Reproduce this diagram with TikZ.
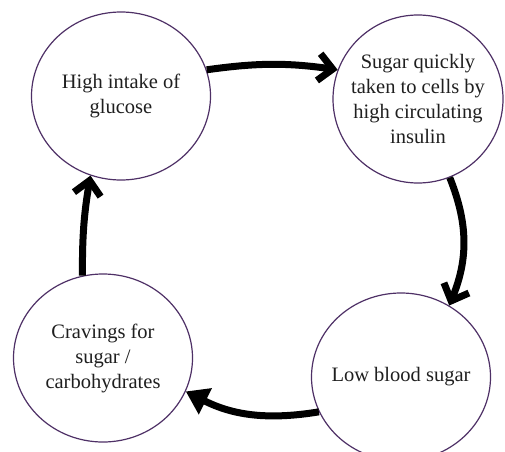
\documentclass[tikz,border=0pt]{standalone}
\usepackage{fontspec}
\setmainfont{Liberation Serif}
\usepackage{tikz}
\usetikzlibrary{shapes.geometric,arrows.meta}

\begin{document}
\begin{tikzpicture}[
  x=1pt,y=1pt,
  cyc/.style ={ellipse,draw=rimpurple,line width=1.2pt,fill=white,
               inner xsep=-30pt,inner ysep=-20pt,
               minimum width=179pt,minimum height=168pt,
               font=\fontsize{20.5}{25}\selectfont,text=black!88,align=center},
  ar/.style  ={line width=7pt,color=black},
  chev/.style={-{Straight Barb[length=14pt,width=27pt,sharp]}},
  tri/.style ={-{Triangle[length=22pt,width=28pt]}}
]
\definecolor{rimpurple}{RGB}{78,48,102}
\useasboundingbox (0,0) rectangle (505,451);
\node[cyc]                   (glu)  at (121,355) {High intake of\\glucose};
\node[cyc,minimum width=170pt] (ins) at (418,352) {Sugar quickly\\taken to cells by\\high circulating\\insulin};
\node[cyc]                   (low)  at (401,74)  {Low blood sugar};
\node[cyc]                   (crav) at (103,93)  {Cravings for\\sugar /\\carbohydrates};
\foreach \a/\b/\bnd/\tip in {glu.17/ins.160/8/chev,ins.-68/low.56/22/chev,
                             low.203/crav.-22/18/tri,crav.104/glu.249/5/chev}
  \draw[ar,\tip](\a) to[bend left=\bnd] (\b);
\end{tikzpicture}
\end{document}
